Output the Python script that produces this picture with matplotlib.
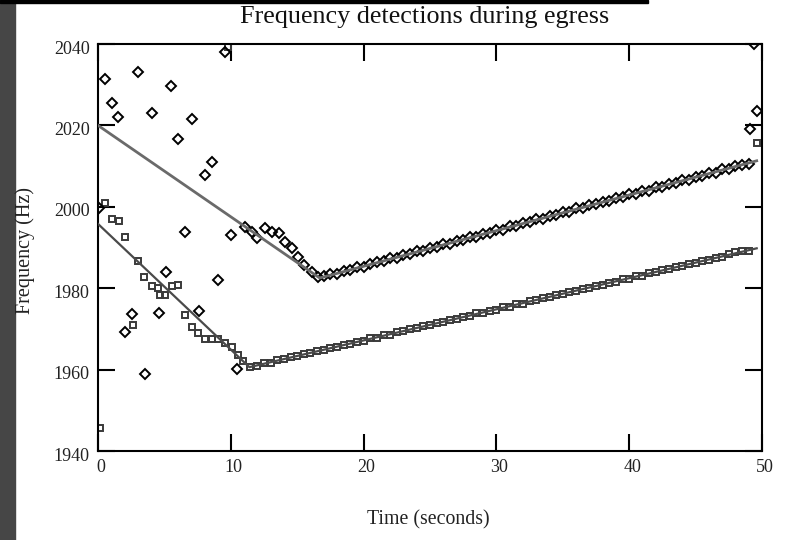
import numpy as np
import matplotlib
matplotlib.use("Agg")
import matplotlib.pyplot as plt
from matplotlib.patches import Rectangle
from matplotlib.transforms import ScaledTranslation

plt.rcParams['font.family'] = ['Liberation Serif', 'DejaVu Serif']

# scattered diamond detections (upper track), before it settles
diam_t = [0.08, 0.55, 1.08, 1.53, 3.04, 4.04, 5.52, 7.05, 6.05, 8.58, 8.08, 9.59,
          6.55, 10.0, 5.1, 9.06, 2.58, 2.03, 4.59, 7.58, 3.51, 10.45, 49.6, 49.1, 49.4,
          11.07, 11.57, 12.0, 12.6, 13.08, 13.6, 14.08, 14.58, 15.08, 15.5, 16.1, 16.6]
diam_f = [1999.6, 2031.5, 2025.4, 2022.1, 2033.0, 2023.0, 2029.6, 2021.5, 2016.6, 2011.0, 2007.8, 2038.1,
          1993.9, 1993.1, 1983.9, 1982.0, 1973.7, 1969.3, 1973.8, 1974.4, 1958.8, 1960.2, 2023.6, 2019.0, 2040.0,
          1995.1, 1993.9, 1992.3, 1994.7, 1993.7, 1993.5, 1991.4, 1989.8, 1987.7, 1985.7, 1984.1, 1982.8]

# diamond detections along the rising part
diam_t2 = [17.0, 17.5, 18.0, 18.5, 19.0, 19.5, 20.0, 20.5, 21.0, 21.5,
           22.0, 22.5, 23.0, 23.5, 24.0, 24.5, 25.0, 25.5, 26.0, 26.5,
           27.0, 27.5, 28.0, 28.5, 29.0, 29.5, 30.0, 30.5, 31.0, 31.5,
           32.0, 32.5, 33.0, 33.5, 34.0, 34.5, 35.0, 35.5, 36.0, 36.5,
           37.0, 37.5, 38.0, 38.5, 39.0, 39.5, 40.0, 40.5, 41.0, 41.5,
           42.0, 42.5, 43.0, 43.5, 44.0, 44.5, 45.0, 45.5, 46.0, 46.5,
           47.0, 47.5, 48.0, 48.5, 49.0]
diam_f2 = [1982.9, 1983.4, 1983.5, 1984.3, 1984.4, 1985.2, 1985.3, 1985.9, 1986.5, 1986.6,
           1987.3, 1987.4, 1988.2, 1988.3, 1989.1, 1989.2, 1990.0, 1990.1, 1990.8, 1990.9,
           1991.7, 1991.8, 1992.6, 1992.7, 1993.4, 1993.6, 1994.3, 1994.4, 1995.2, 1995.3,
           1996.1, 1996.2, 1996.9, 1997.1, 1997.8, 1997.9, 1998.7, 1998.8, 1999.6, 1999.6,
           2000.5, 2000.6, 2001.3, 2001.4, 2002.2, 2002.3, 2003.1, 2003.2, 2003.9, 2004.0,
           2004.8, 2004.9, 2005.7, 2005.8, 2006.6, 2006.7, 2007.4, 2007.5, 2008.3, 2008.4,
           2009.2, 2009.3, 2010.1, 2010.2, 2010.5]

# square detections (lower track), early part
sq_t = [0.12, 0.53, 1.03, 1.6, 2.03, 3.04, 3.49, 4.04, 4.54, 4.67, 5.05, 5.55, 6.05,
        6.55, 7.05, 7.55, 8.06, 8.56, 9.06, 9.56, 10.07, 10.57, 10.95, 11.45,
        2.6, 9.8, 49.6]
sq_f = [1945.6, 2000.9, 1996.9, 1996.4, 1992.5, 1986.6, 1982.8, 1980.5, 1980.0, 1978.3, 1978.3, 1980.5, 1980.8,
        1973.4, 1970.5, 1969.1, 1967.4, 1967.4, 1967.4, 1966.6, 1965.6, 1963.7, 1962.0, 1960.6,
        1971.0, 2039.3, 2015.6]

sq_t2 = [12.0, 12.5, 13.0, 13.5, 14.0, 14.5, 15.0, 15.5, 16.0, 16.5,
         17.0, 17.5, 18.0, 18.5, 19.0, 19.5, 20.0, 20.5, 21.0, 21.5,
         22.0, 22.5, 23.0, 23.5, 24.0, 24.5, 25.0, 25.5, 26.0, 26.5,
         27.0, 27.5, 28.0, 28.5, 29.0, 29.5, 30.0, 30.5, 31.0, 31.5,
         32.0, 32.5, 33.0, 33.5, 34.0, 34.5, 35.0, 35.5, 36.0, 36.5,
         37.0, 37.5, 38.0, 38.5, 39.0, 39.5, 40.0, 40.5, 41.0, 41.5,
         42.0, 42.5, 43.0, 43.5, 44.0, 44.5, 45.0, 45.5, 46.0, 46.5,
         47.0, 47.5, 48.0, 48.5, 49.0]
sq_f2 = [1961.0, 1961.5, 1961.7, 1962.3, 1962.5, 1963.1, 1963.3, 1963.8, 1964.0, 1964.6,
         1964.8, 1965.4, 1965.5, 1966.1, 1966.3, 1966.9, 1967.1, 1967.7, 1967.8, 1968.4,
         1968.6, 1969.2, 1969.4, 1969.9, 1970.1, 1970.7, 1970.9, 1971.5, 1971.6, 1972.2,
         1972.4, 1973.0, 1973.2, 1973.8, 1973.9, 1974.5, 1974.7, 1975.3, 1975.5, 1976.1,
         1976.2, 1976.8, 1977.0, 1977.6, 1977.8, 1978.3, 1978.5, 1979.1, 1979.3, 1979.9,
         1980.1, 1980.6, 1980.8, 1981.4, 1981.6, 1982.2, 1982.3, 1982.9, 1983.1, 1983.7,
         1983.9, 1984.5, 1984.6, 1985.2, 1985.4, 1986.0, 1986.2, 1986.7, 1986.9, 1987.5,
         1987.7, 1988.3, 1988.8, 1989.1, 1989.2]

# piecewise fit lines (vertices)
fit_up_t = [0.0, 16.7, 49.6]
fit_up_f = [2020.0, 1982.5, 2011.3]
fit_lo_t = [0.0, 11.4, 49.6]
fit_lo_f = [1995.8, 1960.6, 1989.8]

x_ticks = [0, 10, 20, 30, 40, 50]
y_ticks = [1940, 1960, 1980, 2000, 2020, 2040]

fig = plt.figure(figsize=(7.91, 5.40), dpi=100)
fig.patch.set_facecolor("white")
# dark photo edge on the left and thin black band on top
fig.add_artist(Rectangle((0, 0), 15 / 791, 1, transform=fig.transFigure, color="#464646", zorder=0))
fig.add_artist(Rectangle((0, 1 - 3 / 540), 648 / 791, 3 / 540, transform=fig.transFigure, color="black", zorder=0))

ax = fig.add_axes([98 / 791, 1 - 451 / 540, 664 / 791, 407 / 540])

mk = dict(linestyle="none", markersize=5.0, markeredgewidth=1.4, markerfacecolor="none")
ax.plot(sq_t, sq_f, marker="s", markeredgecolor="#3a3a3a", **mk)
ax.plot(sq_t2, sq_f2, marker="s", markeredgecolor="#3a3a3a", **mk)
ax.plot(diam_t, diam_f, marker="D", markeredgecolor="black", **mk)
ax.plot(diam_t2, diam_f2, marker="D", markeredgecolor="black", **mk)
ax.plot(fit_up_t, fit_up_f, color="#6a6a6a", lw=2.0, zorder=3)
ax.plot(fit_lo_t, fit_lo_f, color="#4a4a4a", lw=1.6, zorder=3)

ax.set_xlim(0, 50)
ax.set_ylim(1940, 2040)
ax.set_xticks(x_ticks)
ax.set_yticks(y_ticks)
ax.tick_params(direction="in", length=12, width=1.5, top=True, right=True,
               labelsize=13, colors="black", labelcolor="#222222")
ax.tick_params(axis="x", pad=6)
ax.tick_params(axis="y", pad=6)
for s in ax.spines.values():
    s.set_linewidth(1.5)

# labels in the original sit a little right/down of their ticks
for lab in ax.get_xticklabels():
    lab.set_transform(lab.get_transform() + ScaledTranslation(3 / 100, 0, fig.dpi_scale_trans))
for lab in ax.get_yticklabels():
    lab.set_transform(lab.get_transform() + ScaledTranslation(0, -3 / 100, fig.dpi_scale_trans))

fig.text(425 / 791, 1 - 17 / 540, "Frequency detections during egress", ha="center", va="center",
         fontsize=18.8, color="#111111")
fig.text(428 / 791, 1 - 520 / 540, "Time (seconds)", ha="center", va="center", fontsize=14.3, color="#222222")
fig.text(25 / 791, 1 - 250 / 540, "Frequency (Hz)", ha="center", va="center", rotation=90,
         fontsize=14.5, color="#222222")

fig.savefig("out.png", dpi=100)
